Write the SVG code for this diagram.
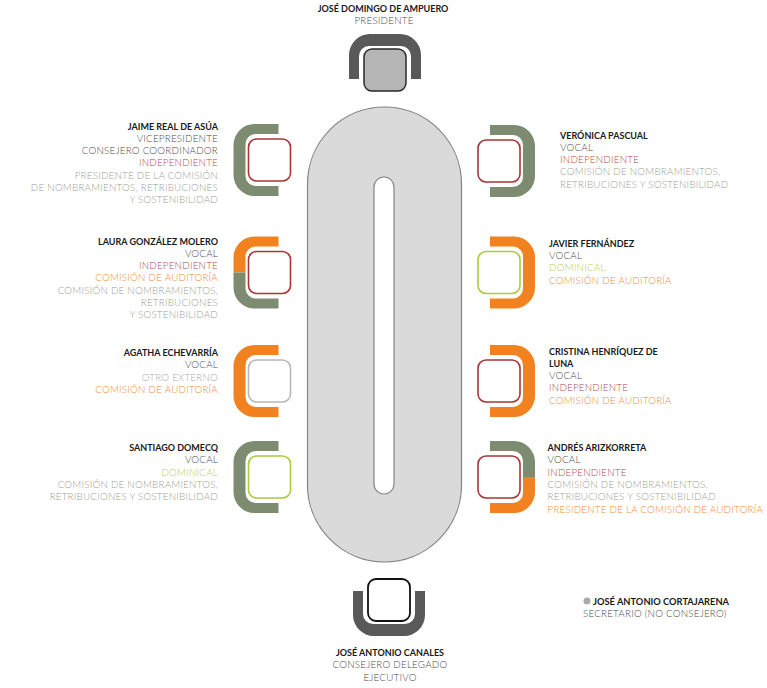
<svg xmlns="http://www.w3.org/2000/svg" width="767" height="688" viewBox="0 0 767 688">
<style>
text{font-family:Lato,"Open Sans","Liberation Sans",sans-serif}
.n{font-weight:700;font-size:9px;fill:#1a1a1a}
.t{font-weight:300;font-size:9.8px;letter-spacing:0.22px;fill:#4a4a4a}
.r{fill:#b04a4a}
.g{fill:#9ba291}
.o{fill:#f28a2e}
.d{fill:#b3cf4f}
.x{fill:#aaaaaa}
.e{text-anchor:end}
.m{text-anchor:middle}
.sq{fill:#fff;stroke-width:1.6}
.sr{stroke:#a83636}
.sl{stroke:#a8cc3a}
.sg{stroke:#b8b8b8}
.cg{fill:#7d8b70}
.co{fill:#f28220}
.ck{fill:#595959}
</style>
<defs>
<path id="c" d="M9 -36H-15A21 21 0 0 0 -36 -15V15A21 21 0 0 0 -15 36H9V26H-14A10 10 0 0 1 -24 16V-16A10 10 0 0 1 -14 -26H9Z"/>
<path id="ct" d="M9 -36H-15A21 21 0 0 0 -36 -15V0H-24V-16A10 10 0 0 1 -14 -26H9Z"/>
<path id="cb" d="M9 36H-15A21 21 0 0 1 -36 15V0H-24V16A10 10 0 0 0 -14 26H9Z"/>
<rect id="s" x="-21" y="-21" width="42" height="42" rx="8"/>
</defs>

<g id="table">
<rect x="307.5" y="107" width="154" height="455" rx="77" fill="#dadada" stroke="#858585" stroke-width="1.2"/>
<rect x="374" y="177" width="20" height="317" rx="10" fill="#fff" stroke="#858585" stroke-width="1.2"/>
</g>

<g id="connectors"></g>

<g id="presidente">
<g transform="translate(385,70) rotate(90)"><use href="#c" class="ck"/><rect x="-21" y="-21" width="42" height="42" rx="8" fill="#b5b5b5" stroke="#2a2a2a" stroke-width="1.5"/></g>
<text class="n m" x="383" y="11.5">JOSÉ DOMINGO DE AMPUERO</text>
<text class="t m" x="384" y="24">PRESIDENTE</text>
</g>

<g id="jaime">
<g transform="translate(269.5,160)"><use href="#c" class="cg"/><use href="#s" class="sq sr"/></g>
<text class="n e" x="218" y="129.5">JAIME REAL DE ASÚA</text>
<text class="t e" x="218" y="141.8">VICEPRESIDENTE</text>
<text class="t e" x="218" y="154.1">CONSEJERO COORDINADOR</text>
<text class="t e r" x="218" y="166.4">INDEPENDIENTE</text>
<text class="t e g" x="218" y="178.7">PRESIDENTE DE LA COMISIÓN</text>
<text class="t e g" x="218" y="191">DE NOMBRAMIENTOS, RETRIBUCIONES</text>
<text class="t e g" x="218" y="203.3">Y SOSTENIBILIDAD</text>
</g>

<g id="laura">
<g transform="translate(269.5,272.5)"><use href="#ct" class="co"/><use href="#cb" class="cg"/><use href="#s" class="sq sr"/></g>
<text class="n e" x="218" y="244.5">LAURA GONZÁLEZ MOLERO</text>
<text class="t e" x="218" y="256.8">VOCAL</text>
<text class="t e r" x="218" y="269.1">INDEPENDIENTE</text>
<text class="t e o" x="218" y="281.4">COMISIÓN DE AUDITORÍA</text>
<text class="t e g" x="218" y="293.7">COMISIÓN DE NOMBRAMIENTOS,</text>
<text class="t e g" x="218" y="306">RETRIBUCIONES</text>
<text class="t e g" x="218" y="318.3">Y SOSTENIBILIDAD</text>
</g>

<g id="agatha">
<g transform="translate(269.5,381)"><use href="#c" class="co"/><use href="#s" class="sq sg"/></g>
<text class="n e" x="218" y="356">AGATHA ECHEVARRÍA</text>
<text class="t e" x="218" y="368.3">VOCAL</text>
<text class="t e x" x="218" y="380.6">OTRO EXTERNO</text>
<text class="t e o" x="218" y="392.9">COMISIÓN DE AUDITORÍA</text>
</g>

<g id="santiago">
<g transform="translate(269.5,477)"><use href="#c" class="cg"/><use href="#s" class="sq sl"/></g>
<text class="n e" x="218" y="451">SANTIAGO DOMECQ</text>
<text class="t e" x="218" y="463.3">VOCAL</text>
<text class="t e d" x="218" y="475.6">DOMINICAL</text>
<text class="t e g" x="218" y="487.9">COMISIÓN DE NOMBRAMIENTOS,</text>
<text class="t e g" x="218" y="500.2">RETRIBUCIONES Y SOSTENIBILIDAD</text>
</g>

<g id="veronica">
<g transform="translate(499,161) scale(-1,1)"><use href="#c" class="cg"/><use href="#s" class="sq sr"/></g>
<text class="n" x="560" y="138.5">VERÓNICA PASCUAL</text>
<text class="t" x="560" y="150.8">VOCAL</text>
<text class="t r" x="560" y="163.1">INDEPENDIENTE</text>
<text class="t g" x="560" y="175.4">COMISIÓN DE NOMBRAMIENTOS,</text>
<text class="t g" x="560" y="187.7">RETRIBUCIONES Y SOSTENIBILIDAD</text>
</g>

<g id="javier">
<g transform="translate(499,272.5) scale(-1,1)"><use href="#c" class="co"/><use href="#s" class="sq sl"/></g>
<text class="n" x="549" y="246.7">JAVIER FERNÁNDEZ</text>
<text class="t" x="549" y="259">VOCAL</text>
<text class="t d" x="549" y="271.3">DOMINICAL</text>
<text class="t o" x="549" y="283.6">COMISIÓN DE AUDITORÍA</text>
</g>

<g id="cristina">
<g transform="translate(499,381) scale(-1,1)"><use href="#c" class="co"/><use href="#s" class="sq sr"/></g>
<text class="n" x="549" y="354.5">CRISTINA HENRÍQUEZ DE</text>
<text class="n" x="549" y="366.8">LUNA</text>
<text class="t" x="549" y="379.1">VOCAL</text>
<text class="t r" x="549" y="391.4">INDEPENDIENTE</text>
<text class="t o" x="549" y="403.7">COMISIÓN DE AUDITORÍA</text>
</g>

<g id="andres">
<g transform="translate(499,477) scale(-1,1)"><use href="#ct" class="cg"/><use href="#cb" class="co"/><use href="#s" class="sq sr"/></g>
<text class="n" x="547.5" y="451">ANDRÉS ARIZKORRETA</text>
<text class="t" x="547.5" y="463.3">VOCAL</text>
<text class="t r" x="547.5" y="475.6">INDEPENDIENTE</text>
<text class="t g" x="547.5" y="487.9">COMISIÓN DE NOMBRAMIENTOS,</text>
<text class="t g" x="547.5" y="500.2">RETRIBUCIONES Y SOSTENIBILIDAD</text>
<text class="t o" x="547.5" y="512.5">PRESIDENTE DE LA COMISIÓN DE AUDITORÍA</text>
</g>

<g id="consejero-delegado">
<g transform="translate(389,600) rotate(-90)"><use href="#c" class="ck"/><rect x="-21" y="-21" width="42" height="42" rx="8" fill="#fff" stroke="#111" stroke-width="1.8"/></g>
<text class="n m" x="390" y="655.5">JOSÉ ANTONIO CANALES</text>
<text class="t m" x="390" y="668">CONSEJERO DELEGADO</text>
<text class="t m" x="390" y="680.5">EJECUTIVO</text>
</g>

<g id="secretario">
<circle cx="587" cy="601" r="3.5" fill="#aaaaaa"/>
<text class="n" x="593" y="604.5" style="font-size:9.3px">JOSÉ ANTONIO CORTAJARENA</text>
<text class="t" x="583" y="616.5">SECRETARIO (NO CONSEJERO)</text>
</g>
</svg>
